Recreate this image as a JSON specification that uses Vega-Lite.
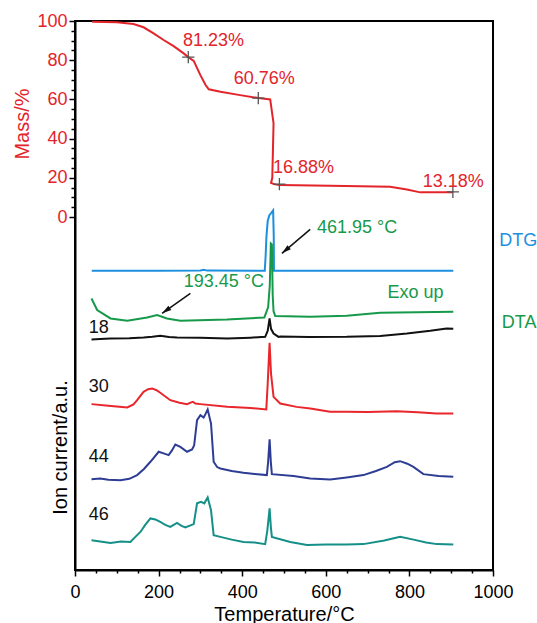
{
  "$schema": "https://vega.github.io/schema/vega-lite/v6.json",
  "width": 418,
  "height": 549,
  "autosize": {"type": "none"},
  "padding": {"left": 75, "top": 21, "right": 44, "bottom": 53},
  "config": {
    "view": {"stroke": "black", "strokeWidth": 2},
    "font": "Liberation Sans",
    "axis": {
      "grid": false, "domainColor": "black", "domainWidth": 2, "tickColor": "black", "tickWidth": 1.5,
      "labelFont": "Liberation Sans", "titleFont": "Liberation Sans", "labelFontSize": 18, "titleFontSize": 20,
      "titleFontWeight": "normal", "labelColor": "black", "titleColor": "black"
    }
  },
  "datasets": {
    "curves": [
      {"s":"Mass","T":41,"v":99.6},{"s":"Mass","T":100,"v":99.3},{"s":"Mass","T":140,"v":98.5},{"s":"Mass","T":164,"v":96.8},{"s":"Mass","T":188,"v":93.7},{"s":"Mass","T":212,"v":90.3},{"s":"Mass","T":236,"v":87.2},{"s":"Mass","T":260,"v":83.5},{"s":"Mass","T":271,"v":81.6},{"s":"Mass","T":284,"v":79.7},{"s":"Mass","T":300,"v":72.4},{"s":"Mass","T":312,"v":67.5},{"s":"Mass","T":320,"v":65.2},{"s":"Mass","T":348,"v":63.9},{"s":"Mass","T":395,"v":62.2},{"s":"Mass","T":439,"v":60.7},{"s":"Mass","T":467,"v":60.0},{"s":"Mass","T":475,"v":47.8},{"s":"Mass","T":472,"v":20},{"s":"Mass","T":469,"v":17.4},{"s":"Mass","T":476,"v":16.8},{"s":"Mass","T":489,"v":16.3},{"s":"Mass","T":610,"v":16.0},{"s":"Mass","T":754,"v":15.5},{"s":"Mass","T":794,"v":14.1},{"s":"Mass","T":826,"v":12.6},{"s":"Mass","T":904,"v":12.6},
      {"s":"DTG","T":40,"v":-27.4},{"s":"DTG","T":200,"v":-27.4},{"s":"DTG","T":300,"v":-27.2},{"s":"DTG","T":308,"v":-26.9},{"s":"DTG","T":316,"v":-27.3},{"s":"DTG","T":454,"v":-27.4},{"s":"DTG","T":456,"v":-20},{"s":"DTG","T":458,"v":-10},{"s":"DTG","T":461,"v":-2},{"s":"DTG","T":465,"v":1},{"s":"DTG","T":470,"v":2.3},{"s":"DTG","T":474,"v":3.4},{"s":"DTG","T":475.5,"v":-10},{"s":"DTG","T":476,"v":-27.4},{"s":"DTG","T":905,"v":-27.4},
      {"s":"DTA","T":39.5,"v":-41.5},{"s":"DTA","T":53,"v":-47.4},{"s":"DTA","T":85,"v":-51.7},{"s":"DTA","T":125,"v":-52.9},{"s":"DTA","T":172.5,"v":-51.2},{"s":"DTA","T":196.4,"v":-50.0},{"s":"DTA","T":220,"v":-51.7},{"s":"DTA","T":252,"v":-52.9},{"s":"DTA","T":363.6,"v":-52.3},{"s":"DTA","T":453,"v":-51.2},{"s":"DTA","T":462,"v":-46},{"s":"DTA","T":466,"v":-35},{"s":"DTA","T":468.5,"v":-13.5},{"s":"DTA","T":471,"v":-14},{"s":"DTA","T":473,"v":-40},{"s":"DTA","T":475,"v":-48},{"s":"DTA","T":479,"v":-50.5},{"s":"DTA","T":562.7,"v":-50.9},{"s":"DTA","T":650,"v":-50.3},{"s":"DTA","T":730,"v":-48.8},{"s":"DTA","T":905,"v":-48.3},
      {"s":"m18","T":39.5,"v":-62.4},{"s":"m18","T":60,"v":-62.2},{"s":"m18","T":85,"v":-61.9},{"s":"m18","T":130,"v":-61.8},{"s":"m18","T":164,"v":-61.4},{"s":"m18","T":185,"v":-61.0},{"s":"m18","T":204,"v":-60.5},{"s":"m18","T":225,"v":-61.2},{"s":"m18","T":244,"v":-61.4},{"s":"m18","T":300,"v":-61.6},{"s":"m18","T":364,"v":-61.9},{"s":"m18","T":420,"v":-61.5},{"s":"m18","T":455,"v":-61.1},{"s":"m18","T":461,"v":-58},{"s":"m18","T":465.5,"v":-51.7},{"s":"m18","T":469,"v":-57},{"s":"m18","T":475,"v":-59.4},{"s":"m18","T":487,"v":-61.1},{"s":"m18","T":491,"v":-60.9},{"s":"m18","T":560,"v":-61.2},{"s":"m18","T":650,"v":-61.1},{"s":"m18","T":730,"v":-60.6},{"s":"m18","T":794,"v":-59.4},{"s":"m18","T":850,"v":-58.0},{"s":"m18","T":889,"v":-56.8},{"s":"m18","T":905,"v":-57.0},
      {"s":"m30","T":39.5,"v":-95.4},{"s":"m30","T":80,"v":-96.2},{"s":"m30","T":125,"v":-97.1},{"s":"m30","T":140,"v":-95.5},{"s":"m30","T":148.6,"v":-93.4},{"s":"m30","T":164,"v":-89.1},{"s":"m30","T":175,"v":-87.8},{"s":"m30","T":184.5,"v":-87.4},{"s":"m30","T":195,"v":-88.3},{"s":"m30","T":204,"v":-89.6},{"s":"m30","T":228,"v":-93.4},{"s":"m30","T":250,"v":-94.7},{"s":"m30","T":268,"v":-95.4},{"s":"m30","T":278,"v":-94.5},{"s":"m30","T":282,"v":-94.2},{"s":"m30","T":288,"v":-95.1},{"s":"m30","T":300,"v":-95.4},{"s":"m30","T":364,"v":-96.8},{"s":"m30","T":420,"v":-97.4},{"s":"m30","T":457.6,"v":-98.1},{"s":"m30","T":461,"v":-85},{"s":"m30","T":465.5,"v":-64.1},{"s":"m30","T":469,"v":-80},{"s":"m30","T":475,"v":-91.7},{"s":"m30","T":491,"v":-95.1},{"s":"m30","T":530,"v":-96.8},{"s":"m30","T":563,"v":-97.6},{"s":"m30","T":610,"v":-99.3},{"s":"m30","T":650,"v":-99.3},{"s":"m30","T":700,"v":-99.4},{"s":"m30","T":770,"v":-99.0},{"s":"m30","T":820,"v":-99.6},{"s":"m30","T":865,"v":-100.2},{"s":"m30","T":905,"v":-100.2},
      {"s":"m44","T":39.5,"v":-133.7},{"s":"m44","T":60,"v":-133.3},{"s":"m44","T":80,"v":-134.0},{"s":"m44","T":108.7,"v":-134.2},{"s":"m44","T":130,"v":-133.5},{"s":"m44","T":148.6,"v":-131.6},{"s":"m44","T":165,"v":-128.5},{"s":"m44","T":180.4,"v":-124.8},{"s":"m44","T":200.2,"v":-119.7},{"s":"m44","T":212,"v":-120.5},{"s":"m44","T":224,"v":-121.4},{"s":"m44","T":232,"v":-119},{"s":"m44","T":240,"v":-116},{"s":"m44","T":252,"v":-117.2},{"s":"m44","T":268,"v":-119.7},{"s":"m44","T":280,"v":-118.5},{"s":"m44","T":285,"v":-116.5},{"s":"m44","T":292,"v":-103.6},{"s":"m44","T":300,"v":-101},{"s":"m44","T":307.8,"v":-102.2},{"s":"m44","T":312,"v":-100.5},{"s":"m44","T":317.4,"v":-98.1},{"s":"m44","T":325.4,"v":-105.3},{"s":"m44","T":331.7,"v":-124.8},{"s":"m44","T":340,"v":-127.5},{"s":"m44","T":347.7,"v":-128.2},{"s":"m44","T":375,"v":-129.5},{"s":"m44","T":403,"v":-130.4},{"s":"m44","T":430,"v":-131},{"s":"m44","T":459,"v":-131.6},{"s":"m44","T":462,"v":-125},{"s":"m44","T":465.6,"v":-113.4},{"s":"m44","T":468.5,"v":-125},{"s":"m44","T":471,"v":-131.1},{"s":"m44","T":522.8,"v":-132.1},{"s":"m44","T":562.7,"v":-133.3},{"s":"m44","T":610.5,"v":-133.8},{"s":"m44","T":650,"v":-132.8},{"s":"m44","T":690,"v":-131.6},{"s":"m44","T":720,"v":-129.5},{"s":"m44","T":746,"v":-127.4},{"s":"m44","T":765,"v":-125},{"s":"m44","T":777.8,"v":-124.5},{"s":"m44","T":795,"v":-125.8},{"s":"m44","T":809.6,"v":-127.4},{"s":"m44","T":833.5,"v":-131.1},{"s":"m44","T":870,"v":-132},{"s":"m44","T":905,"v":-132.5},
      {"s":"m46","T":39.5,"v":-164.8},{"s":"m46","T":85,"v":-166.2},{"s":"m46","T":110,"v":-165.5},{"s":"m46","T":132.6,"v":-165.7},{"s":"m46","T":145,"v":-163},{"s":"m46","T":156.5,"v":-160.6},{"s":"m46","T":168,"v":-157},{"s":"m46","T":180.4,"v":-153.7},{"s":"m46","T":192,"v":-154.2},{"s":"m46","T":204,"v":-155.5},{"s":"m46","T":216,"v":-157},{"s":"m46","T":228,"v":-158},{"s":"m46","T":244,"v":-156},{"s":"m46","T":255,"v":-157.5},{"s":"m46","T":264,"v":-158.3},{"s":"m46","T":284,"v":-156.6},{"s":"m46","T":292,"v":-146},{"s":"m46","T":301.5,"v":-145.2},{"s":"m46","T":309.4,"v":-146},{"s":"m46","T":317.4,"v":-143},{"s":"m46","T":325.4,"v":-149.5},{"s":"m46","T":331.7,"v":-162.2},{"s":"m46","T":347.7,"v":-163.1},{"s":"m46","T":375,"v":-164.5},{"s":"m46","T":403,"v":-165.7},{"s":"m46","T":430,"v":-166},{"s":"m46","T":455,"v":-166.8},{"s":"m46","T":460,"v":-160},{"s":"m46","T":465.6,"v":-148.6},{"s":"m46","T":468.5,"v":-158},{"s":"m46","T":471,"v":-163.1},{"s":"m46","T":515,"v":-165.7},{"s":"m46","T":555,"v":-167.3},{"s":"m46","T":600,"v":-167},{"s":"m46","T":650,"v":-167},{"s":"m46","T":690,"v":-166.8},{"s":"m46","T":740,"v":-165},{"s":"m46","T":777.8,"v":-163.1},{"s":"m46","T":810,"v":-164.5},{"s":"m46","T":840,"v":-166},{"s":"m46","T":865.5,"v":-166.8},{"s":"m46","T":905,"v":-167}
    ],
    "crosses": [
      {"T":271,"v":81.6},{"T":438.5,"v":60.7},{"T":489,"v":16.8},{"T":904,"v":12.8}
    ],
    "labels": [
      {"t":"81.23%","T":258.5,"v":87.2,"s":"Mass"},
      {"t":"60.76%","T":379.5,"v":67.9,"s":"Mass"},
      {"t":"16.88%","T":473.6,"v":22.3,"s":"Mass"},
      {"t":"13.18%","T":832,"v":15.2,"s":"Mass"},
      {"t":"461.95 °C","T":578.7,"v":-8.3,"s":"DTA"},
      {"t":"193.45 °C","T":260,"v":-35.9,"s":"DTA"},
      {"t":"Exo up","T":747.4,"v":-41.5,"s":"DTA"},
      {"t":"DTG","T":1015,"v":-14.8,"s":"DTG"},
      {"t":"DTA","T":1021,"v":-56.8,"s":"DTA"},
      {"t":"18","T":33,"v":-59.3,"s":"m18"},
      {"t":"30","T":33,"v":-89.1,"s":"m18"},
      {"t":"44","T":33,"v":-124.8,"s":"m18"},
      {"t":"46","T":33,"v":-154.6,"s":"m18"}
    ],
    "arrows": [
      {"id":"a","T":562.7,"v":-6.3,"T2":495,"v2":-18.5},
      {"id":"b","T":276,"v":-38.9,"T2":208.4,"v2":-49.1}
    ]
  },
  "layer": [
    {
      "data": {"name": "curves"},
      "mark": {"type": "line", "strokeWidth": 2},
      "encoding": {
        "x": {"field": "T", "type": "quantitative", "scale": {"domain": [0, 1000], "nice": false, "zero": false},
              "axis": {"orient": "bottom", "values": [0, 200, 400, 600, 800, 1000], "format": "d", "labelFlush": false, "tickSize": 6, "labelPadding": 7, "title": "Temperature/°C", "titleY": 50, "titleBaseline": "alphabetic"}},
        "y": {"field": "v", "type": "quantitative", "scale": {"domain": [-180, 100], "nice": false, "zero": false},
              "axis": {"orient": "left", "values": [0, 20, 40, 60, 80, 100], "format": "d", "labelFlush": false, "tickSize": 6, "labelPadding": 2, "labelColor": "#e3242b", "title": "Mass/%", "titleColor": "#e3242b", "titleX": -47, "titleY": 102.5, "titleBaseline": "alphabetic"}},
        "color": {"field": "s", "type": "nominal",
                  "scale": {"domain": ["Mass", "DTG", "DTA", "m18", "m30", "m44", "m46"],
                            "range": ["#e3242b", "#1c8fdf", "#17994a", "#111111", "#e8262b", "#2d3d94", "#159088"]},
                  "legend": null},
        "order": {"value": null}
      }
    },
    {
      "data": {"name": "crosses"},
      "mark": {"type": "point", "shape": "M-1,0L1,0M0,-1L0,1", "filled": false, "stroke": "#555555", "strokeWidth": 1.3, "size": 150, "opacity": 1},
      "encoding": {
        "x": {"field": "T", "type": "quantitative",
              "axis": {"orient": "bottom", "values": [50, 100, 150, 250, 300, 350, 450, 500, 550, 650, 700, 750, 850, 900, 950], "tickSize": 3, "labels": false, "domain": false, "title": null}},
        "y": {"field": "v", "type": "quantitative",
              "axis": {"orient": "left", "values": [5, 10, 15, 25, 30, 35, 45, 50, 55, 65, 70, 75, 85, 90, 95], "tickSize": 4, "labels": false, "domain": false, "title": null}}
      }
    },
    {
      "data": {"name": "labels"},
      "mark": {"type": "text", "align": "left", "baseline": "alphabetic", "fontSize": 18, "font": "Liberation Sans"},
      "encoding": {
        "x": {"field": "T", "type": "quantitative", "axis": null},
        "y": {"field": "v", "type": "quantitative",
              "axis": {"orient": "left", "ticks": false, "labels": false, "domain": false, "title": "Ion current/a.u.", "titleX": -8.7, "titleY": 426, "titleBaseline": "alphabetic"}},
        "text": {"field": "t", "type": "nominal"},
        "color": {"field": "s", "type": "nominal", "legend": null}
      }
    },
    {
      "data": {"name": "arrows"},
      "mark": {"type": "rule", "color": "#111111", "strokeWidth": 1.5},
      "encoding": {
        "x": {"field": "T", "type": "quantitative", "axis": null},
        "y": {"field": "v", "type": "quantitative", "axis": null},
        "x2": {"field": "T2"},
        "y2": {"field": "v2"}
      }
    },
    {
      "data": {"name": "arrows"},
      "transform": [{"filter": "datum.id === 'a'"}],
      "mark": {"type": "point", "shape": "M0,0L0.55,2L-0.55,2Z", "filled": true, "color": "#111111", "size": 90, "angle": 229.7, "opacity": 1},
      "encoding": {
        "x": {"field": "T2", "type": "quantitative", "axis": null},
        "y": {"field": "v2", "type": "quantitative", "axis": null}
      }
    },
    {
      "data": {"name": "arrows"},
      "transform": [{"filter": "datum.id === 'b'"}],
      "mark": {"type": "point", "shape": "M0,0L0.55,2L-0.55,2Z", "filled": true, "color": "#111111", "size": 90, "angle": 234.8, "opacity": 1},
      "encoding": {
        "x": {"field": "T2", "type": "quantitative", "axis": null},
        "y": {"field": "v2", "type": "quantitative", "axis": null}
      }
    }
  ],
  "resolve": {"axis": {"x": "independent", "y": "independent"}}
}
